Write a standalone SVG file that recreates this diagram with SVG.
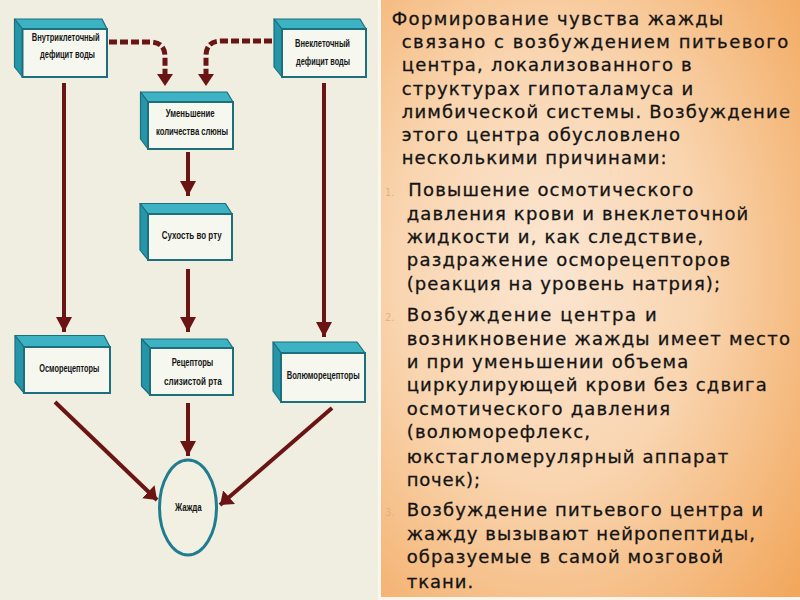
<svg xmlns="http://www.w3.org/2000/svg" width="800" height="600" viewBox="0 0 800 600">
<defs>
<radialGradient id="pg" cx="0.4" cy="0.45" r="0.8">
<stop offset="0" stop-color="#fbe6d2"/>
<stop offset="0.45" stop-color="#f9d5b0"/>
<stop offset="1" stop-color="#f2a75c"/>
</radialGradient>
<marker id="ah" markerUnits="userSpaceOnUse" markerWidth="18" markerHeight="16" refX="15" refY="8" orient="auto" viewBox="0 0 18 16">
<path d="M0,0 L15,8 L0,16 z" fill="#6b1414"/>
</marker>
<marker id="ahd" markerUnits="userSpaceOnUse" markerWidth="18" markerHeight="20" refX="12" refY="9" orient="auto" viewBox="0 0 18 20">
<path d="M0,0 L12,9 L0,18 z" fill="#6b1414"/>
</marker>
</defs>
<style>
.top{fill:#3db2c3;stroke:#1d6f7e;stroke-width:1.2;stroke-linejoin:round}
.side{fill:#2596a8;stroke:#1d6f7e;stroke-width:1.2;stroke-linejoin:round}
.front{fill:#f6f8f0;stroke:#1d6f7e;stroke-width:2}
.lbl{font-family:"Liberation Sans Narrow","Liberation Sans",Arial,sans-serif;font-size:11px;font-weight:bold;fill:#151515}
.ln{stroke:#6b1414;stroke-width:4;fill:none}
.dash{stroke:#6b1414;stroke-width:5;fill:none;stroke-dasharray:8 3}
.pt{font-family:"DejaVu Sans",Verdana,sans-serif;font-size:18px;fill:#141414;stroke:#141414;stroke-width:0.3}
.num{font-family:"DejaVu Sans",Verdana,sans-serif;font-size:10px;fill:#e2b27e}
</style>
<rect x="0" y="0" width="800" height="600" fill="#efeee0"/>
<rect x="378" y="0" width="422" height="600" fill="#fbf7ef"/>
<rect x="381" y="0" width="419" height="597" fill="url(#pg)"/>

<g id="connectors">
<path class="dash" d="M109,42 H150 Q165,42 165,57 V74" />
<path d="M157,74 L173,74 L165,86 z" fill="#6b1414"/>
<path class="dash" d="M272,41 H221 Q206,41 206,56 V74" />
<path d="M198,74 L214,74 L206,86 z" fill="#6b1414"/>
<line class="ln" x1="64" y1="83" x2="64" y2="332" marker-end="url(#ah)"/>
<line class="ln" x1="324" y1="83" x2="324" y2="337" marker-end="url(#ah)"/>
<line class="ln" x1="188" y1="152" x2="188" y2="196" marker-end="url(#ah)"/>
<line class="ln" x1="188" y1="269" x2="188" y2="332" marker-end="url(#ah)"/>
<line class="ln" x1="188" y1="403" x2="188" y2="456" marker-end="url(#ah)"/>
<line class="ln" x1="55" y1="402" x2="157" y2="500" marker-end="url(#ahd)"/>
<line class="ln" x1="332" y1="408" x2="220" y2="505" marker-end="url(#ahd)"/>
</g>

<g id="n-intra">
<polygon class="top" points="14.5,19 102,19 107,29 22.5,29"/>
<polygon class="side" points="14.5,19 22.5,29 22.5,77 14.5,67"/>
<rect class="front" x="22.5" y="29" width="84.5" height="48"/>
<text class="lbl" x="31.7" y="40.5" textLength="68" lengthAdjust="spacingAndGlyphs">Внутриклеточный</text>
<text class="lbl" x="40" y="57.5" textLength="55" lengthAdjust="spacingAndGlyphs">дефицит воды</text>
</g>
<g id="n-extra">
<polygon class="top" points="274,19 360,19 366,29 282,29"/>
<polygon class="side" points="274,19 282,29 282,77 274,67"/>
<rect class="front" x="282" y="29" width="84" height="48"/>
<text class="lbl" x="295" y="46.5" textLength="55" lengthAdjust="spacingAndGlyphs">Внеклеточный</text>
<text class="lbl" x="296" y="65" textLength="54" lengthAdjust="spacingAndGlyphs">дефицит воды</text>
</g>
<g id="n-saliva">
<polygon class="top" points="140.5,92 227,92 233,102 148,102"/>
<polygon class="side" points="140.5,92 148,102 148,149 140.5,139"/>
<rect class="front" x="148" y="102" width="85" height="47"/>
<text class="lbl" x="165.7" y="117" textLength="49" lengthAdjust="spacingAndGlyphs">Уменьшение</text>
<text class="lbl" x="156" y="134.5" textLength="72" lengthAdjust="spacingAndGlyphs">количества слюны</text>
</g>
<g id="n-dry">
<polygon class="top" points="140,203.5 225.5,203.5 232,214 148,214"/>
<polygon class="side" points="140,203.5 148,214 148,260 140,250"/>
<rect class="front" x="148" y="214" width="84" height="46"/>
<text class="lbl" x="161.7" y="238.5" textLength="60" lengthAdjust="spacingAndGlyphs">Сухость во рту</text>
</g>
<g id="n-osmo">
<polygon class="top" points="15,335.5 104,335.5 110,347 24,347"/>
<polygon class="side" points="15,335.5 24,347 24,393 15,382"/>
<rect class="front" x="24" y="347" width="86" height="46"/>
<text class="lbl" x="39.3" y="372" textLength="60" lengthAdjust="spacingAndGlyphs">Осморецепторы</text>
</g>
<g id="n-mouth">
<polygon class="top" points="141.5,339 227,339 233,348 150,348"/>
<polygon class="side" points="141.5,339 150,348 150,395 141.5,386"/>
<rect class="front" x="150" y="348" width="83" height="47"/>
<text class="lbl" x="171.7" y="366" textLength="41.6" lengthAdjust="spacingAndGlyphs">Рецепторы</text>
<text class="lbl" x="164" y="385" textLength="57.7" lengthAdjust="spacingAndGlyphs">слизистой рта</text>
</g>
<g id="n-volumo">
<polygon class="top" points="273,342 357,342 365,353 281,353"/>
<polygon class="side" points="273,342 281,353 281,402 273,391"/>
<rect class="front" x="281" y="353" width="84" height="49"/>
<text class="lbl" x="286.7" y="378.5" textLength="73" lengthAdjust="spacingAndGlyphs">Волюморецепторы</text>
</g>
<g id="n-thirst">
<ellipse cx="188" cy="507.5" rx="28.5" ry="47.5" fill="#f1f0e3" stroke="#1f7d8f" stroke-width="3"/>
<text class="lbl" x="175" y="511" textLength="26.7" lengthAdjust="spacingAndGlyphs">Жажда</text>
</g>

<g id="panel-text">
<text class="pt" x="391.7" y="25" textLength="331.6" lengthAdjust="spacing">Формирование чувства жажды</text>
<text class="pt" x="401.7" y="48" textLength="386.6" lengthAdjust="spacing">связано с возбуждением питьевого</text>
<text class="pt" x="401.7" y="71" textLength="290" lengthAdjust="spacing">центра, локализованного в</text>
<text class="pt" x="401.7" y="95" textLength="291.6" lengthAdjust="spacing">структурах гипоталамуса и</text>
<text class="pt" x="401.7" y="118" textLength="388.3" lengthAdjust="spacing">лимбической системы. Возбуждение</text>
<text class="pt" x="401.7" y="141" textLength="278.3" lengthAdjust="spacing">этого центра обусловлено</text>
<text class="pt" x="401.7" y="164" textLength="265" lengthAdjust="spacing">несколькими причинами:</text>
<text class="num" x="385" y="196">1.</text>
<text class="pt" x="408.3" y="196" textLength="285" lengthAdjust="spacing">Повышение осмотического</text>
<text class="pt" x="406.7" y="219.5" textLength="341.6" lengthAdjust="spacing">давления крови и внеклеточной</text>
<text class="pt" x="406.7" y="243" textLength="296.6" lengthAdjust="spacing">жидкости и, как следствие,</text>
<text class="pt" x="406.7" y="266" textLength="323.3" lengthAdjust="spacing">раздражение осморецепторов</text>
<text class="pt" x="406.7" y="289.5" textLength="313.3" lengthAdjust="spacing">(реакция на уровень натрия);</text>
<text class="num" x="385" y="321">2.</text>
<text class="pt" x="406.7" y="321" textLength="250" lengthAdjust="spacing">Возбуждение центра и</text>
<text class="pt" x="406.7" y="344.5" textLength="383.3" lengthAdjust="spacing">возникновение жажды имеет место</text>
<text class="pt" x="406.7" y="368" textLength="281.6" lengthAdjust="spacing">и при уменьшении объема</text>
<text class="pt" x="406.7" y="391" textLength="360" lengthAdjust="spacing">циркулирующей крови без сдвига</text>
<text class="pt" x="406.7" y="414.5" textLength="263.3" lengthAdjust="spacing">осмотического давления</text>
<text class="pt" x="406.7" y="438" textLength="183.3" lengthAdjust="spacing">(волюморефлекс,</text>
<text class="pt" x="406.7" y="462.5" textLength="321.6" lengthAdjust="spacing">юкстагломерулярный аппарат</text>
<text class="pt" x="406.7" y="486" textLength="73.3" lengthAdjust="spacing">почек);</text>
<text class="num" x="385" y="516">3.</text>
<text class="pt" x="406.7" y="516" textLength="356.6" lengthAdjust="spacing">Возбуждение питьевого центра и</text>
<text class="pt" x="406.7" y="539.5" textLength="348.3" lengthAdjust="spacing">жажду вызывают нейропептиды,</text>
<text class="pt" x="406.7" y="563" textLength="316.6" lengthAdjust="spacing">образуемые в самой мозговой</text>
<text class="pt" x="406.7" y="588" textLength="66.6" lengthAdjust="spacing">ткани.</text>
</g>
</svg>
